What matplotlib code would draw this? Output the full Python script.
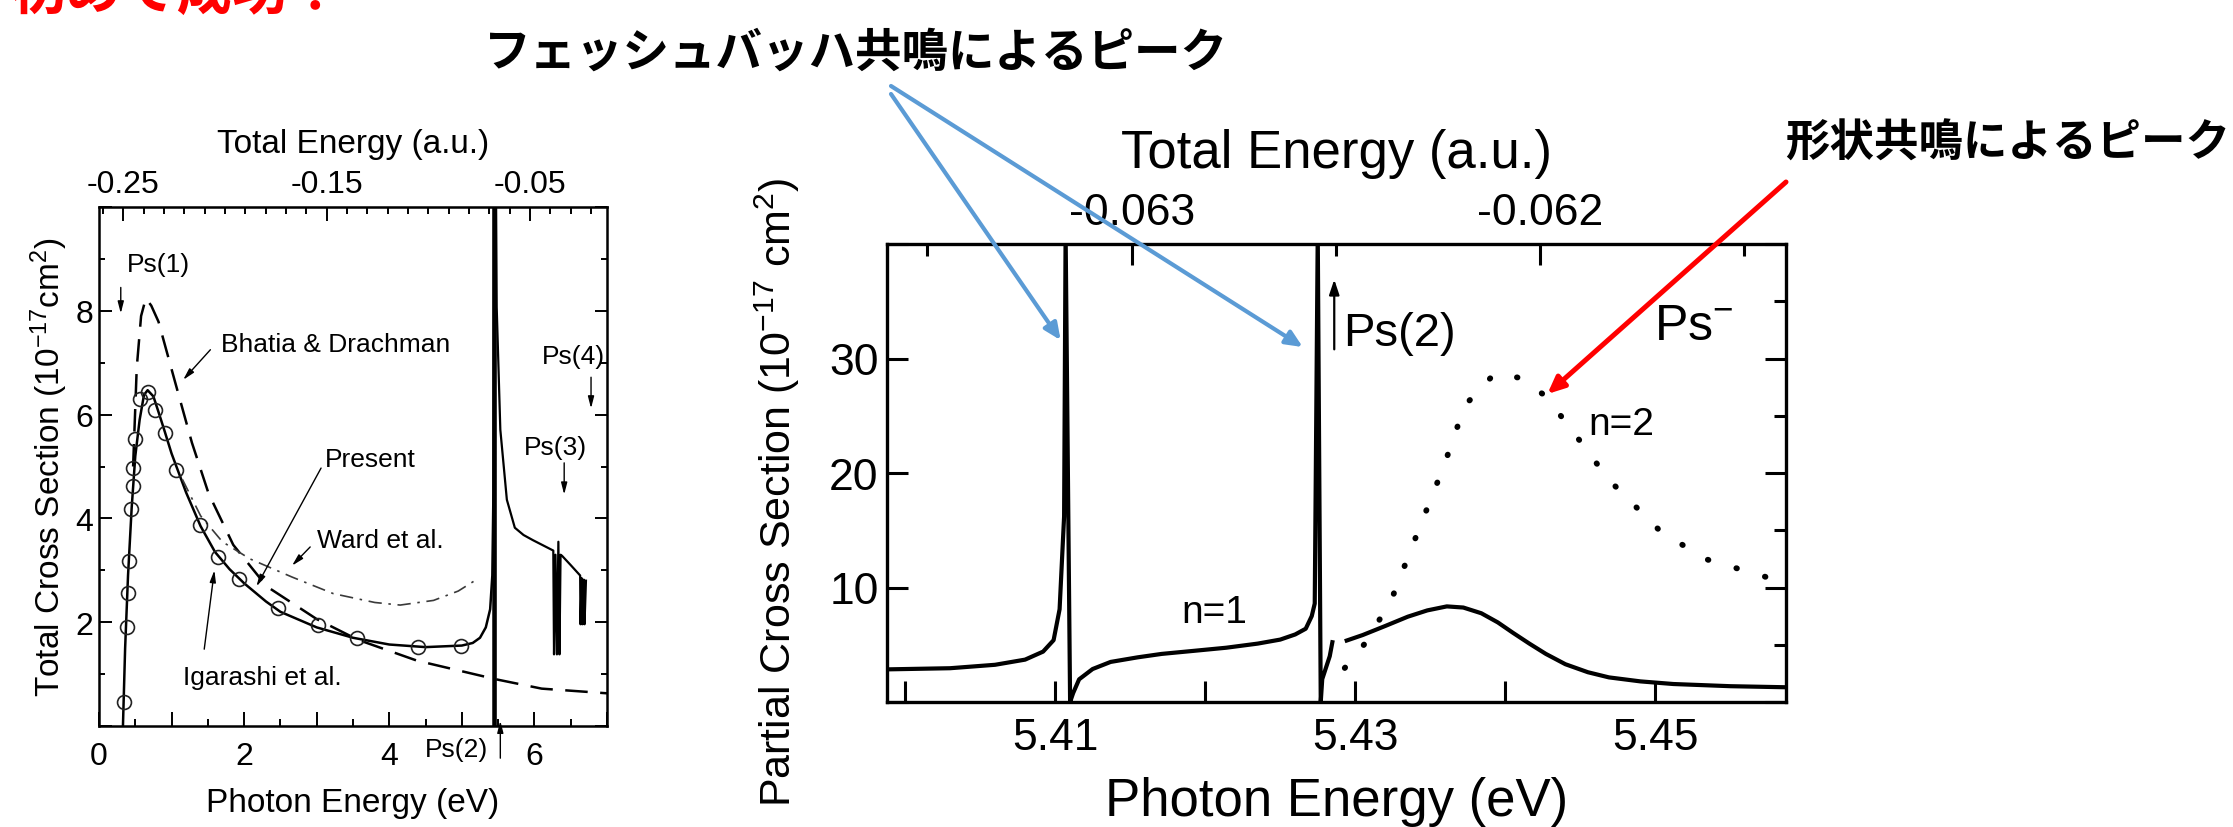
import numpy as np
import matplotlib.pyplot as plt
from matplotlib.ticker import MultipleLocator, FixedLocator, FuncFormatter

plt.rcParams['font.family'] = ['Liberation Sans', 'DejaVu Sans']
plt.rcParams['mathtext.fontset'] = 'custom'
plt.rcParams['mathtext.rm'] = 'Liberation Sans'
plt.rcParams['mathtext.default'] = 'regular'
JP = ['Noto Sans CJK JP', 'DejaVu Sans']

W, H, DPI = 2233, 828, 100

# ---------------- left panel: total cross section ----------------
# present calculation, below the Ps(2) threshold
present_x = [0.33, 0.36, 0.40, 0.45, 0.50, 0.56, 0.62, 0.67, 0.75, 0.82, 0.90, 1.0, 1.2,
             1.4, 1.6, 1.8, 2.0, 2.3, 2.5, 3.0, 3.5, 4.0, 4.5, 5.0, 5.15, 5.25, 5.33,
             5.39, 5.42, 5.435, 5.445]
present_y = [0.0, 1.5, 2.9, 4.2, 5.2, 5.9, 6.38, 6.47, 6.35, 6.05, 5.7, 5.25, 4.5,
             3.85, 3.35, 3.02, 2.75, 2.4, 2.2, 1.9, 1.7, 1.57, 1.52, 1.55, 1.6, 1.7, 1.9,
             2.25, 2.9, 4.5, 10.5]
# present calculation, above the Ps(2) threshold (with Ps(3), Ps(4) resonances)
above_x = [5.47, 5.48, 5.53, 5.62, 5.73, 5.85, 5.98, 6.12, 6.26, 6.27, 6.29, 6.31, 6.33,
           6.345, 6.36, 6.38, 6.5, 6.63, 6.635, 6.65, 6.66, 6.68, 6.69, 6.71]
above_y = [10.5, 8.07, 5.71, 4.36, 3.82, 3.68, 3.58, 3.48, 3.38, 1.38, 3.3, 1.38, 3.55,
           1.38, 3.3, 3.28, 3.1, 2.9, 1.96, 2.85, 1.96, 2.82, 1.96, 2.8]
# dense resonance band at the Ps(2) threshold
band_x = [5.44, 5.445, 5.45, 5.455, 5.46]
band_y = [10.5, 0.0, 10.5, 0.0, 10.5]

igarashi_x = [0.341, 0.387, 0.404, 0.416, 0.444, 0.462, 0.467, 0.502, 0.571, 0.674,
              0.777, 0.904, 1.059, 1.39, 1.64, 1.93, 2.47, 3.02, 3.56, 4.39, 4.99]
igarashi_y = [0.47, 1.91, 2.57, 3.18, 4.19, 4.63, 4.97, 5.53, 6.31, 6.43,
              6.09, 5.64, 4.94, 3.87, 3.25, 2.84, 2.27, 1.95, 1.69, 1.53, 1.55]

bhatia_x = [0.47, 0.52, 0.58, 0.645, 0.72, 0.82, 1.05, 1.28, 1.51, 1.85, 2.31, 3.0,
            3.57, 4.38, 5.47, 6.1, 7.0]
bhatia_y = [5.0, 6.9, 7.9, 8.24, 8.1, 7.79, 6.62, 5.46, 4.48, 3.49, 2.69, 2.06,
            1.66, 1.26, 0.90, 0.72, 0.63]

ward_x = [1.15, 1.4, 1.7, 2.08, 2.66, 3.23, 3.80, 4.15, 4.61, 4.95, 5.2]
ward_y = [4.75, 4.05, 3.55, 3.22, 2.87, 2.55, 2.38, 2.33, 2.42, 2.60, 2.82]

# top axis: total energy (a.u.) vs photon energy (eV)
L_HV0, L_E0, L_SCALE = 0.336, -0.25, 28.02
left_top_ticks = [-0.25, -0.15, -0.05]

# ---------------- right panel: partial cross sections ----------------
nan = np.nan
n1_x = [5.3988, 5.4030, 5.4060, 5.4080, 5.4092, 5.4099, 5.4103, 5.4106, 5.4107, 5.4110,
        5.4112, 5.4116, 5.4125, 5.4137, 5.4155, 5.4171, 5.4195, 5.4214, 5.4235, 5.4250,
        5.4260, 5.4267, 5.4271, 5.4273, 5.4275, 5.4277, 5.4278, 5.4283, 5.4285, nan,
        5.4293, 5.4305, 5.4320, 5.4335, 5.4348, 5.4361, 5.4372, 5.4384, 5.4395, 5.4405,
        5.4416, 5.4427, 5.4440, 5.4455, 5.4469, 5.4490, 5.4512, 5.4550, 5.4590]
n1_y = [2.85, 2.95, 3.25, 3.7, 4.4, 5.4, 8.1, 16.2, 41.0, 0.0,
        0.77, 1.98, 2.88, 3.5, 3.9, 4.2, 4.5, 4.74, 5.1, 5.45,
        5.9, 6.4, 7.5, 8.6, 41.0, 0.0, 2.0, 4.0, 5.4, nan,
        5.31, 5.85, 6.64, 7.45, 8.0, 8.35, 8.25, 7.75, 6.95, 6.05,
        5.1, 4.2, 3.3, 2.6, 2.15, 1.8, 1.57, 1.38, 1.28]
n2_x = [5.4293, 5.4307, 5.4324, 5.4342, 5.4359, 5.4373, 5.4393, 5.4410, 5.4427, 5.4448,
        5.4469, 5.4503, 5.4533, 5.4587]
n2_y = [2.97, 5.2, 8.9, 14.95, 20.6, 25.9, 28.7, 28.3, 26.7, 23.1,
        19.4, 14.95, 12.5, 10.4]

R_HV0, R_E0, R_SCALE = 5.4151, -0.063, 27.211


def fx(px):
    return px / W


def fy(py):
    return 1 - py / H


fig = plt.figure(figsize=(W / DPI, H / DPI), dpi=DPI)

# ================= left panel =================
ax1 = fig.add_axes([fx(99), fy(727), 508 / W, 519 / H])
ax1.plot(present_x, present_y, color='black', lw=1.8)
ax1.plot(above_x, above_y, color='black', lw=1.6)
ax1.plot(band_x, band_y, color='black', lw=2.2)
ax1.plot(bhatia_x, bhatia_y, color='black', lw=1.8, dashes=(9, 5))
ax1.plot(ward_x, ward_y, color='#3a3a3a', lw=1.2, dashes=(8, 4, 1.5, 4))
ax1.plot(igarashi_x, igarashi_y, 'o', mfc='none', mec='#222222', ms=10, mew=1.2)

ax1.set_xlim(0, 7)
ax1.set_ylim(0, 10)
ax1.xaxis.set_major_locator(MultipleLocator(1))
ax1.xaxis.set_minor_locator(MultipleLocator(0.5))
ax1.xaxis.set_major_formatter(FuncFormatter(lambda v, p: f'{v:.0f}' if round(v) % 2 == 0 else ''))
ax1.yaxis.set_major_locator(MultipleLocator(2))
ax1.yaxis.set_minor_locator(MultipleLocator(1))
ax1.yaxis.set_major_formatter(FuncFormatter(lambda v, p: f'{v:.0f}' if 0 < v < 10 else ''))
ax1.tick_params(which='both', direction='in', top=False, right=True, width=1.4, labelsize=23)
ax1.tick_params(axis='x', which='major', length=10, pad=11)
ax1.tick_params(axis='x', which='minor', length=5)
ax1.tick_params(axis='y', which='major', length=9, pad=4)
ax1.tick_params(axis='y', which='minor', length=4)
for s in ax1.spines.values():
    s.set_linewidth(1.8)

sec1 = ax1.secondary_xaxis('top', functions=(lambda hv: L_E0 + (hv - L_HV0) / L_SCALE,
                                             lambda e: L_HV0 + (e - L_E0) * L_SCALE))
sec1.xaxis.set_major_locator(FixedLocator(left_top_ticks))
sec1.xaxis.set_minor_locator(MultipleLocator(0.01))
sec1.xaxis.set_major_formatter(FuncFormatter(lambda v, p: f'{v:.2f}'))
sec1.tick_params(which='both', direction='in', width=1.4, labelsize=23, pad=6)
sec1.tick_params(which='major', length=10)
sec1.tick_params(which='minor', length=5)
sec1.set_xlabel('Total Energy (a.u.)', fontsize=24, labelpad=12)
ax1.set_xlabel('Photon Energy (eV)', fontsize=24, labelpad=11)
ax1.set_ylabel('Total Cross Section (10$^{-17}$cm$^{2}$)', fontsize=24, labelpad=4)

small = dict(fontsize=19)
head = dict(arrowstyle='-|>,head_length=0.7,head_width=0.18', color='black', lw=1.0,
            shrinkA=0, shrinkB=0)
ax1.text(0.39, 8.9, 'Ps(1)', va='center', **small)
ax1.annotate('', xy=(0.30, 7.95), xytext=(0.30, 8.45), arrowprops=head)
ax1.text(1.68, 7.36, 'Bhatia & Drachman', va='center', **small)
ax1.annotate('', xy=(1.16, 6.67), xytext=(1.535, 7.25), arrowprops=head)
ax1.text(3.11, 5.15, 'Present', va='center', **small)
ax1.annotate('', xy=(2.17, 2.69), xytext=(3.06, 4.97), arrowprops=head)
ax1.text(3.0, 3.58, 'Ward et al.', va='center', **small)
ax1.annotate('', xy=(2.66, 3.09), xytext=(2.91, 3.45), arrowprops=head)
ax1.text(1.16, 0.94, 'Igarashi et al.', va='center', **small)
ax1.annotate('', xy=(1.59, 3.0), xytext=(1.45, 1.48), arrowprops=head)
ax1.text(6.1, 7.13, 'Ps(4)', va='center', **small)
ax1.annotate('', xy=(6.78, 6.12), xytext=(6.78, 6.72), arrowprops=head)
ax1.text(5.85, 5.38, 'Ps(3)', va='center', **small)
ax1.annotate('', xy=(6.41, 4.46), xytext=(6.41, 5.07), arrowprops=head)
ax1.text(4.49, -0.44, 'Ps(2)', va='center', clip_on=False, **small)
ax1.annotate('', xy=(5.53, 0.1), xytext=(5.53, -0.62), arrowprops=head, annotation_clip=False)

# ================= right panel =================
ax2 = fig.add_axes([fx(887), fy(703), 899 / W, 458 / H])
ax2.plot(n1_x, n1_y, color='black', lw=3.0, solid_capstyle='butt')
ax2.plot(n2_x, n2_y, color='black', lw=4.2, linestyle=(0, (0.1, 5.0)), dash_capstyle='round')
ax2.set_xlim(5.3988, 5.4587)
ax2.set_ylim(0, 40)
ax2.xaxis.set_major_locator(MultipleLocator(0.01))
ax2.xaxis.set_major_formatter(FuncFormatter(lambda v, p: f'{v:.2f}' if round(v * 100) % 2 == 1 else ''))
ax2.yaxis.set_major_locator(MultipleLocator(10))
ax2.yaxis.set_minor_locator(MultipleLocator(5))
ax2.yaxis.set_major_formatter(FuncFormatter(lambda v, p: f'{v:.0f}' if 0 < v < 40 else ''))
ax2.tick_params(which='both', direction='in', top=False, right=True, width=2.2, labelsize=32)
ax2.tick_params(axis='x', which='major', length=15, pad=11)
ax2.tick_params(axis='y', which='major', length=15, pad=6)
ax2.tick_params(axis='y', which='minor', left=False, right=True, length=8.5)
for s in ax2.spines.values():
    s.set_linewidth(2.4)

sec2 = ax2.secondary_xaxis('top', functions=(lambda hv: R_E0 + (hv - R_HV0) / R_SCALE,
                                             lambda e: R_HV0 + (e - R_E0) * R_SCALE))
sec2.xaxis.set_major_locator(MultipleLocator(0.001))
sec2.xaxis.set_minor_locator(MultipleLocator(0.0005))
sec2.xaxis.set_major_formatter(FuncFormatter(lambda v, p: f'{v:.3f}'))
sec2.tick_params(which='both', direction='in', width=2.2, labelsize=32, pad=8)
sec2.tick_params(which='major', length=15)
sec2.tick_params(which='minor', length=8.5)
sec2.set_xlabel('Total Energy (a.u.)', fontsize=38, labelpad=18)
ax2.set_xlabel('Photon Energy (eV)', fontsize=38, labelpad=13)
ax2.set_ylabel('Partial Cross Section (10$^{-17}$ cm$^{2}$)', fontsize=31)
ax2.yaxis.set_label_coords(-0.095, 0.46)

ax2.text(5.4292, 32.2, 'Ps(2)', fontsize=34, va='center')
ax2.annotate('', xy=(5.4286, 36.9), xytext=(5.4286, 30.8),
             arrowprops=dict(arrowstyle='-|>,head_length=0.9,head_width=0.3', color='black',
                             lw=1.6, shrinkA=0, shrinkB=0))
ax2.text(5.4499, 32.8, 'Ps$^{-}$', fontsize=36, va='center')
ax2.text(5.4184, 7.86, 'n=1', fontsize=28, va='center')
ax2.text(5.4455, 24.3, 'n=2', fontsize=28, va='center')

# ================= slide annotations =================
fig.text(fx(10), fy(21), '初めて成功！', family=JP, fontsize=40, fontweight='bold',
         color='#FF0000', va='bottom', ha='left')
fig.text(fx(856), fy(53), 'フェッシュバッハ共鳴によるピーク', family=JP, fontsize=33.5,
         fontweight='bold', va='center', ha='center')
fig.text(fx(2008), fy(144), '形状共鳴によるピーク', family=JP, fontsize=32,
         fontweight='bold', va='center', ha='center')

blue = dict(arrowstyle='-|>,head_length=1.0,head_width=0.45', color='#5B9BD5', lw=3.0,
            shrinkA=0, shrinkB=0)
ax2.annotate('', xy=(5.41037, 31.6), xytext=(fx(891), fy(95)), textcoords='figure fraction',
             arrowprops=blue)
ax2.annotate('', xy=(5.4265, 31.0), xytext=(fx(891), fy(87)), textcoords='figure fraction',
             arrowprops=blue)
ax2.annotate('', xy=(5.4428, 26.9), xytext=(fx(1786), fy(183)), textcoords='figure fraction',
             arrowprops=dict(arrowstyle='-|>,head_length=1.0,head_width=0.45', color='#FF0000',
                             lw=3.6, shrinkA=0, shrinkB=0))

fig.savefig('out.png', dpi=DPI)
